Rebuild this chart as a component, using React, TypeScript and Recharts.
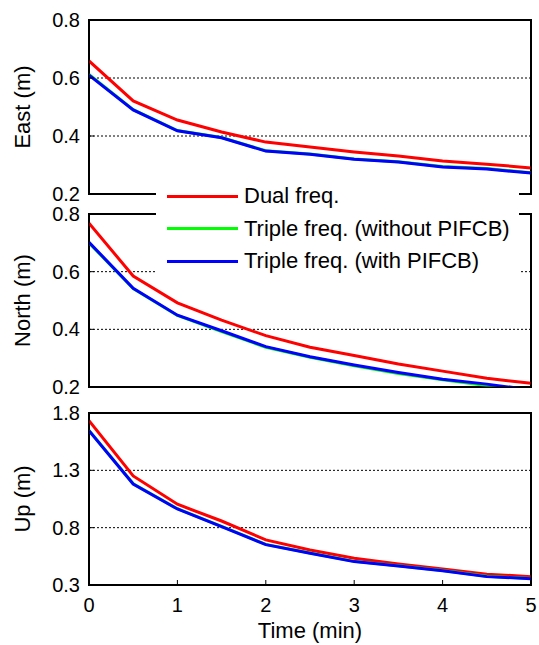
import React from "react";
import { CartesianGrid, Line, LineChart, ReferenceArea, XAxis, YAxis } from "recharts";

const FONT = '"Liberation Sans", Arial, Helvetica, sans-serif';

const times = [0, 0.5, 1, 1.5, 2, 2.5, 3, 3.5, 4, 4.5, 5];

const eastDual = [0.659, 0.521, 0.455, 0.414, 0.379, 0.362, 0.345, 0.331, 0.314, 0.303, 0.29];
const eastTripleNoPifcb = [0.612, 0.491, 0.419, 0.395, 0.349, 0.338, 0.321, 0.311, 0.295, 0.288, 0.273];
const eastTriplePifcb = [0.61, 0.49, 0.418, 0.394, 0.348, 0.337, 0.32, 0.31, 0.293, 0.286, 0.272];

const northDual = [0.768, 0.585, 0.492, 0.432, 0.378, 0.338, 0.309, 0.28, 0.255, 0.23, 0.213];
const northTripleNoPifcb = [0.7, 0.541, 0.448, 0.392, 0.338, 0.303, 0.274, 0.247, 0.225, 0.205, 0.186];
const northTriplePifcb = [0.702, 0.542, 0.449, 0.395, 0.34, 0.305, 0.276, 0.25, 0.227, 0.21, 0.19];

const upDual = [1.733, 1.251, 1.004, 0.858, 0.693, 0.606, 0.533, 0.483, 0.44, 0.394, 0.373];
const upTripleNoPifcb = [1.648, 1.183, 0.965, 0.811, 0.654, 0.579, 0.506, 0.468, 0.427, 0.376, 0.357];
const upTriplePifcb = [1.646, 1.181, 0.963, 0.809, 0.652, 0.577, 0.504, 0.466, 0.425, 0.373, 0.355];

const xTicks = [0, 1, 2, 3, 4, 5];
const horizTicks = [0.2, 0.4, 0.6, 0.8];
const upTicks = [0.3, 0.8, 1.3, 1.8];

const series = [
  { key: "dual", name: "Dual freq.", color: "#ff0000" },
  { key: "noPifcb", name: "Triple freq. (without PIFCB)", color: "#00ff00" },
  { key: "pifcb", name: "Triple freq. (with PIFCB)", color: "#0000ff" },
];

function buildRows(dual: number[], noPifcb: number[], pifcb: number[]) {
  return times.map((t, i) => ({ t, dual: dual[i], noPifcb: noPifcb[i], pifcb: pifcb[i] }));
}

const tickText = { fill: "#000", fontSize: 20 };

function YTitle(props: any) {
  const vb = props.viewBox || {};
  const cy = vb.y + vb.height / 2;
  return (
    <text
      x={22}
      y={cy}
      transform={`rotate(-90 22 ${cy})`}
      textAnchor="middle"
      dominantBaseline="central"
      fontSize={22}
      fill="#000"
    >
      {props.text}
    </text>
  );
}

interface PanelProps {
  top: number;
  height: number;
  rows: any[];
  domain: [number, number];
  ticks: number[];
  title: string;
  showX?: boolean;
}

function Panel({ top, height, rows, domain, ticks, title, showX }: PanelProps) {
  return (
    <div style={{ position: "absolute", left: 0, top, width: 539, height }}>
      <LineChart
        width={539}
        height={height}
        data={rows}
        margin={{ top: 19, right: 7, bottom: showX ? 0 : 19, left: 0 }}
      >
        <CartesianGrid
          xAxisId="b"
          yAxisId="l"
          vertical={false}
          stroke="#000"
          strokeDasharray="2 2"
        />
        <XAxis
          xAxisId="b"
          dataKey="t"
          type="number"
          domain={[0, 5]}
          ticks={xTicks}
          allowDataOverflow
          height={showX ? 60 : 1}
          tick={showX ? tickText : false}
          tickSize={-5}
          tickMargin={18}
          stroke="#000"
          axisLine
          tickLine
          label={
            showX
              ? { value: "Time (min)", position: "insideBottom", offset: 7, fontSize: 22, fill: "#000" }
              : undefined
          }
        />
        <XAxis
          xAxisId="t"
          orientation="top"
          dataKey="t"
          type="number"
          domain={[0, 5]}
          ticks={xTicks}
          allowDataOverflow
          height={1}
          tick={false}
          tickSize={-5}
          stroke="#000"
          axisLine
          tickLine
        />
        <YAxis
          yAxisId="l"
          type="number"
          domain={domain}
          ticks={ticks}
          allowDataOverflow
          width={89}
          tick={tickText}
          tickFormatter={(v: number) => v.toFixed(1)}
          tickSize={-5}
          tickMargin={14}
          stroke="#000"
          axisLine
          tickLine
          label={(p: any) => <YTitle {...p} text={title} />}
        />
        <YAxis
          yAxisId="r"
          orientation="right"
          type="number"
          domain={domain}
          ticks={ticks}
          allowDataOverflow
          width={1}
          tick={false}
          tickSize={-5}
          stroke="#000"
          axisLine
          tickLine
        />
        <ReferenceArea
          xAxisId="b"
          yAxisId="l"
          x1={0}
          x2={5}
          y1={domain[0]}
          y2={domain[1]}
          fill="none"
          fillOpacity={0}
          stroke="#000"
          strokeWidth={2}
          ifOverflow="visible"
        />
        {series.map((s) => (
          <Line
            key={s.key}
            xAxisId="b"
            yAxisId="l"
            type="linear"
            dataKey={s.key}
            name={s.name}
            stroke={s.color}
            strokeWidth={3}
            dot={false}
            activeDot={false}
            isAnimationActive={false}
          />
        ))}
      </LineChart>
    </div>
  );
}

function LegendBox() {
  return (
    <div
      style={{
        position: "absolute",
        left: 156,
        top: 180,
        width: 363,
        height: 97,
        background: "#fff",
        zIndex: 10,
      }}
    >
      {series.map((s) => (
        <div
          key={s.key}
          style={{ height: 32.5, display: "flex", alignItems: "center", fontSize: 22, color: "#000" }}
        >
          <div style={{ marginLeft: 11, width: 71, height: 3, background: s.color }} />
          <span style={{ marginLeft: 6, whiteSpace: "nowrap" }}>{s.name}</span>
        </div>
      ))}
    </div>
  );
}

export default function App() {
  return (
    <div
      style={{
        position: "absolute",
        left: 0,
        top: 0,
        width: 539,
        height: 645,
        background: "#fff",
        fontFamily: FONT,
        overflow: "hidden",
      }}
    >
      <Panel
        top={0}
        height={214}
        rows={buildRows(eastDual, eastTripleNoPifcb, eastTriplePifcb)}
        domain={[0.2, 0.8]}
        ticks={horizTicks}
        title="East (m)"
      />
      <Panel
        top={194}
        height={213}
        rows={buildRows(northDual, northTripleNoPifcb, northTriplePifcb)}
        domain={[0.2, 0.8]}
        ticks={horizTicks}
        title="North (m)"
      />
      <Panel
        top={393}
        height={252}
        rows={buildRows(upDual, upTripleNoPifcb, upTriplePifcb)}
        domain={[0.3, 1.8]}
        ticks={upTicks}
        title="Up (m)"
        showX
      />
      <LegendBox />
    </div>
  );
}
